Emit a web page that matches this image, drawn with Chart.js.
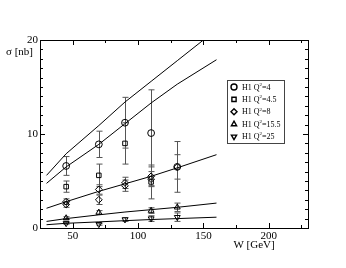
<!DOCTYPE html>
<html>
<head>
<meta charset="utf-8">
<script src="https://cdn.jsdelivr.net/npm/chart.js@4.4.1/dist/chart.umd.min.js"></script>
<style>
  html, body { margin: 0; padding: 0; background: #fff; }
  #wrap { width: 346px; height: 268px; }
</style>
</head>
<body>
<div id="wrap"><canvas id="sigmaChart" width="346" height="268"></canvas></div>
<script>
// H1 data, sigma [nb] vs W [GeV]
const q4W = [45, 70, 90, 110, 130];
const q4Sigma = [6.6, 8.9, 11.2, 10.1, 6.5];
const q4Err = [1.0, 1.4, 2.7, 4.6, 1.3];

const q45W = [45, 70, 90, 110];
const q45Sigma = [4.4, 5.6, 9.0, 4.9];
const q45Err = [0.6, 1.2, 2.2, 1.8];

const q8W = [45, 45, 70, 70, 90, 90, 110, 110, 130];
const q8Sigma = [2.8, 2.5, 4.1, 3.0, 4.8, 4.5, 5.5, 5.2, 6.5];
const q8Err = [0.3, 0.3, 0.5, 0.5, 0.6, 0.6, 1.0, 0.8, 2.7];

const q155W = [45, 70, 110, 130];
const q155Sigma = [1.05, 1.65, 1.85, 2.2];
const q155Err = [0.15, 0.2, 0.3, 0.45];

const q25W = [45, 70, 90, 110, 130];
const q25Sigma = [0.5, 0.4, 0.9, 1.0, 1.15];
const q25Err = [0.1, 0.1, 0.2, 0.3, 0.45];

// model curves
const curveW = [30, 45, 70, 90, 110, 130, 160];
const curveTopW = [30, 45, 70, 90, 110, 130, 150];
const curve1 = [5.6, 7.9, 10.9, 13.4, 15.6, 17.8, 20.0];
const curve2 = [4.75, 6.5, 8.9, 11.1, 13.3, 15.3, 17.9];
const curve3 = [2.1, 2.8, 3.9, 4.7, 5.5, 6.4, 7.8];
const curve4 = [0.7, 1.0, 1.4, 1.7, 1.95, 2.2, 2.65];
const curve5 = [0.35, 0.5, 0.65, 0.78, 0.9, 1.0, 1.15];

const xTicks = [50, 75, 100, 125, 150, 175, 200, 225];
const xTickLabels = [50, 100, 150, 200];
const yTicks = Array.from({ length: 21 }, (_, i) => i);
const yTickLabels = [0, 10, 20];

const legendLabels = ["4", "4.5", "8", "15.5", "25"];

const SERIF = "'Liberation Serif', 'DejaVu Serif', serif";

function pts(xs, ys) {
  return xs.map((x, i) => ({ x: x, y: ys[i] }));
}

function markerSet(label, xs, ys, errs, style, rotation) {
  return {
    label: label,
    data: pts(xs, ys),
    errors: errs,
    pointStyle: style,
    rotation: rotation || 0,
    pointRadius: style === "rect" ? 3.2 : 3.4,
    pointHoverRadius: 3.4,
    pointBorderColor: "#000",
    pointBackgroundColor: "rgba(0,0,0,0)",
    pointBorderWidth: 1,
    showLine: false,
    isMarker: true,
  };
}

function curveSet(xs, ys) {
  return {
    data: pts(xs, ys),
    showLine: true,
    borderColor: "#000",
    borderWidth: 1,
    pointRadius: 0,
    tension: 0,
    fill: false,
  };
}

const errorBars = {
  id: "errorBars",
  beforeDatasetsDraw(chart) {
    const ctx = chart.ctx;
    const yScale = chart.scales.y;
    ctx.save();
    ctx.strokeStyle = "#555";
    ctx.lineWidth = 1;
    chart.data.datasets.forEach((ds, di) => {
      if (!ds.errors) return;
      const meta = chart.getDatasetMeta(di);
      meta.data.forEach((el, i) => {
        const v = ds.data[i].y;
        const e = ds.errors[i];
        const x = Math.round(el.x) + 0.5;
        const yTop = yScale.getPixelForValue(v + e);
        const yBot = yScale.getPixelForValue(v - e);
        ctx.beginPath();
        ctx.moveTo(x, yTop);
        ctx.lineTo(x, yBot);
        ctx.moveTo(x - 3, yTop);
        ctx.lineTo(x + 3, yTop);
        ctx.moveTo(x - 3, yBot);
        ctx.lineTo(x + 3, yBot);
        ctx.stroke();
      });
    });
    ctx.restore();
  },
};

const frame = {
  id: "frame",
  afterDraw(chart) {
    const ctx = chart.ctx;
    const a = chart.chartArea;
    const xs = chart.scales.x;
    const ys = chart.scales.y;
    ctx.save();
    ctx.strokeStyle = "#000";
    ctx.lineWidth = 1;
    ctx.strokeRect(Math.round(a.left) + 0.5, Math.round(a.top) + 0.5,
      Math.round(a.right - a.left), Math.round(a.bottom - a.top));

    ctx.beginPath();
    xTicks.forEach((v) => {
      const px = Math.round(xs.getPixelForValue(v)) + 0.5;
      const len = xTickLabels.includes(v) ? 5 : 3;
      ctx.moveTo(px, a.bottom);
      ctx.lineTo(px, a.bottom - len);
      ctx.moveTo(px, a.top);
      ctx.lineTo(px, a.top + len);
    });
    yTicks.forEach((v) => {
      const py = Math.round(ys.getPixelForValue(v)) + 0.5;
      const len = yTickLabels.includes(v) ? 5 : 3;
      ctx.moveTo(a.left, py);
      ctx.lineTo(a.left + len, py);
      ctx.moveTo(a.right, py);
      ctx.lineTo(a.right - len, py);
    });
    ctx.stroke();

    // axis titles
    ctx.fillStyle = "#000";
    ctx.font = "11px " + SERIF;
    ctx.textBaseline = "middle";
    ctx.textAlign = "left";
    ctx.fillText("σ [nb]", 6, 52);
    ctx.textAlign = "center";
    ctx.fillText("W [GeV]", 254, 245);

    // legend box
    const bx = 227.5, by = 80.5, bw = 57, bh = 63;
    ctx.fillStyle = "#fff";
    ctx.fillRect(bx, by, bw, bh);
    ctx.strokeStyle = "#444";
    ctx.strokeRect(bx, by, bw, bh);
    const markers = chart.data.datasets.filter((d) => d.isMarker);
    markers.forEach((ds, i) => {
      const cy = 87 + i * 12.4;
      ctx.save();
      ctx.strokeStyle = "#000";
      ctx.fillStyle = "rgba(0,0,0,0)";
      ctx.lineWidth = 1.4;
      Chart.helpers.drawPoint(ctx, {
        pointStyle: ds.pointStyle,
        rotation: ds.rotation,
        radius: 3,
        borderWidth: 1.4,
      }, 234, cy);
      ctx.restore();
      ctx.fillStyle = "#000";
      ctx.textAlign = "left";
      ctx.font = "8px " + SERIF;
      let tx = 242;
      ctx.fillText("H1 Q", tx, cy + 0.5);
      tx += ctx.measureText("H1 Q").width;
      ctx.font = "5px " + SERIF;
      ctx.fillText("2", tx, cy - 2.5);
      tx += ctx.measureText("2").width;
      ctx.font = "8px " + SERIF;
      ctx.fillText("=" + legendLabels[i], tx, cy + 0.5);
    });
    ctx.restore();
  },
};

new Chart(document.getElementById("sigmaChart"), {
  type: "scatter",
  data: {
    datasets: [
      markerSet("Q2=4", q4W, q4Sigma, q4Err, "circle"),
      markerSet("Q2=4.5", q45W, q45Sigma, q45Err, "rect"),
      markerSet("Q2=8", q8W, q8Sigma, q8Err, "rectRot"),
      markerSet("Q2=15.5", q155W, q155Sigma, q155Err, "triangle"),
      markerSet("Q2=25", q25W, q25Sigma, q25Err, "triangle", 180),
      curveSet(curveTopW, curve1),
      curveSet(curveW, curve2),
      curveSet(curveW, curve3),
      curveSet(curveW, curve4),
      curveSet(curveW, curve5),
    ],
  },
  options: {
    responsive: false,
    animation: false,
    layout: { padding: { top: 40, right: 38, left: 0, bottom: 0 } },
    plugins: {
      legend: { display: false },
      tooltip: { enabled: false },
    },
    scales: {
      x: {
        type: "linear",
        min: 25,
        max: 230,
        afterBuildTicks: (s) => { s.ticks = xTicks.map((v) => ({ value: v })); },
        afterFit: (s) => { s.height = 40; },
        grid: { display: false, drawTicks: false },
        border: { display: false },
        ticks: {
          autoSkip: false,
          maxRotation: 0,
          padding: 2,
          color: "#000",
          font: { family: SERIF, size: 11 },
          callback: (v) => (xTickLabels.includes(v) ? String(v) : ""),
        },
      },
      y: {
        type: "linear",
        min: 0,
        max: 20,
        afterBuildTicks: (s) => { s.ticks = yTicks.map((v) => ({ value: v })); },
        afterFit: (s) => { s.width = 40; },
        grid: { display: false, drawTicks: false },
        border: { display: false },
        ticks: {
          autoSkip: false,
          padding: 2,
          color: "#000",
          font: { family: SERIF, size: 11 },
          callback: (v) => (yTickLabels.includes(v) ? String(v) : ""),
        },
      },
    },
  },
  plugins: [errorBars, frame],
});
</script>
</body>
</html>
